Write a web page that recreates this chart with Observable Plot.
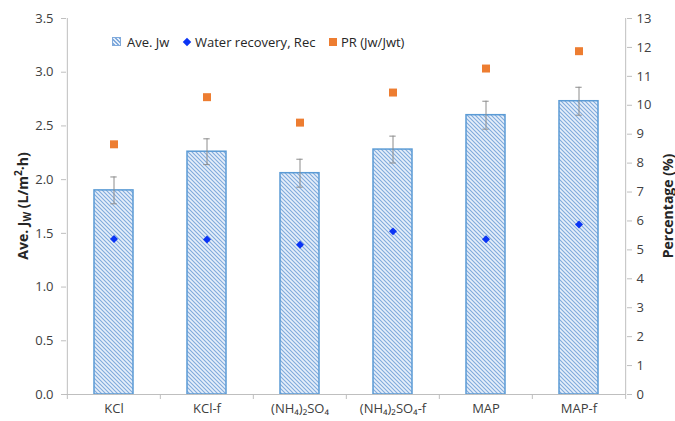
<!DOCTYPE html>
<html><head><meta charset="utf-8">
<script src="https://cdn.jsdelivr.net/npm/d3@7"></script>
<script src="https://cdn.jsdelivr.net/npm/@observablehq/plot@0.6"></script>
<style>
body{margin:0;background:#fff;font-family:"Open Sans",sans-serif;}
#wrap{position:relative;width:675px;height:421px;overflow:hidden;}
.ttl{position:absolute;font-weight:bold;font-size:14px;color:#262626;white-space:nowrap;transform:translate(-50%,-50%) rotate(-90deg);}
.ttl sub,.ttl sup{font-size:10px;line-height:0;}
.lg{position:absolute;font-size:13px;color:#262626;line-height:16px;white-space:nowrap;}
.sw{position:absolute;}
</style></head><body><div id="wrap"></div>
<script>
const categories = ["KCl", "KCl-f", "(NH₄)₂SO₄", "(NH₄)₂SO₄-f", "MAP", "MAP-f"];
const aveJw = [1.90, 2.26, 2.06, 2.28, 2.60, 2.73];
const aveJwErr = [0.125, 0.12, 0.13, 0.125, 0.13, 0.13];
const waterRecovery = [5.38, 5.36, 5.18, 5.64, 5.37, 5.88];
const prRatio = [8.65, 10.28, 9.40, 10.44, 11.27, 11.87];
const leftTicks = [0, 0.5, 1.0, 1.5, 2.0, 2.5, 3.0, 3.5];
const rightTicks = [0, 1, 2, 3, 4, 5, 6, 7, 8, 9, 10, 11, 12, 13];
const legendLabels = ["Ave. Jw", "Water recovery, Rec", "PR (Jw/Jwt)"];

const yMax = 3.5, pMax = 13;
const toY = p => p * yMax / pMax;
const W = 675, H = 421, mL = 66, mR = 49, mT = 18, mB = 27;
const pIn = 0.586, pOut = 0.293;
const step = (W - mL - mR) / categories.length;
const bw = step * (1 - pIn);
const below = -5 * yMax / (H - mT - mB);
const axisColor = "#bfbfbf";

const rows = categories.map((c, i) => ({cat: c, jw: aveJw[i], err: aveJwErr[i], rec: waterRecovery[i], pr: prRatio[i]}));

const plot = Plot.plot({
  width: W, height: H, marginLeft: mL, marginRight: mR, marginTop: mT, marginBottom: mB,
  style: {fontFamily: "Open Sans", fontSize: "13px", color: "#404040", background: "#fff", overflow: "visible"},
  x: {domain: categories, paddingInner: pIn, paddingOuter: pOut, label: null},
  y: {domain: [0, yMax], label: null},
  marks: [
    Plot.barY(rows, {x: "cat", y: "jw", fill: "url(#hatch)", stroke: "#5B9BD5", strokeWidth: 1.5}),
    Plot.ruleX(rows, {x: "cat", y1: d => d.jw - d.err, y2: d => d.jw + d.err, stroke: "#8c8c8c", strokeWidth: 1}),
    Plot.tickY(rows, {x: "cat", y: d => d.jw + d.err, stroke: "#8c8c8c", insetLeft: bw / 2 - 3, insetRight: bw / 2 - 3}),
    Plot.tickY(rows, {x: "cat", y: d => d.jw - d.err, stroke: "#8c8c8c", insetLeft: bw / 2 - 3, insetRight: bw / 2 - 3}),
    Plot.dot(rows, {x: "cat", y: d => toY(d.rec), symbol: "diamond2", r: 3.6, fill: "#0A34F5", stroke: "none"}),
    Plot.dot(rows, {x: "cat", y: d => toY(d.pr), symbol: "square", r: 4.5, fill: "#ED7D31", stroke: "none"}),
    Plot.ruleY([0], {stroke: axisColor}),
    Plot.ruleX(categories, {x: d => d, dx: -step / 2, y1: below, y2: 0, stroke: axisColor}),
    Plot.ruleX([categories[0]], {x: d => d, dx: -step / 2, y1: 0, y2: yMax, stroke: axisColor}),
    Plot.ruleX([categories[categories.length - 1]], {x: d => d, dx: step / 2, y1: below, y2: yMax, stroke: axisColor}),
    Plot.axisY(leftTicks, {anchor: "left", tickFormat: d3.format(".1f"), tickSize: 5, tickPadding: 8, stroke: axisColor, fill: "#404040", label: null}),
    Plot.axisY(rightTicks.map(toY), {anchor: "right", tickFormat: d => String(Math.round(d * pMax / yMax)), tickSize: 5, tickPadding: 5, stroke: axisColor, fill: "#404040", label: null}),
    Plot.axisX({tickSize: 0, tickPadding: 9, fill: "#404040", label: null})
  ]
});

d3.select(plot).insert("defs", ":first-child").html(
  `<pattern id="hatch" patternUnits="userSpaceOnUse" width="4" height="4">
     <rect width="4" height="4" fill="#e6effa"/>
     <path d="M-1,3 l2,2 M0,0 l4,4 M3,-1 l2,2" stroke="#80aadc" stroke-width="1.1"/>
   </pattern>`);

const wrap = document.getElementById("wrap");
wrap.appendChild(plot);

function add(html, cls, style) {
  const d = document.createElement("div");
  d.className = cls; d.innerHTML = html; Object.assign(d.style, style); wrap.appendChild(d); return d;
}
// axis titles
add("Ave. J<sub>W</sub> (L/m<sup>2</sup>·h)", "ttl", {left: "22px", top: "206px"});
add("Percentage (%)", "ttl", {left: "667px", top: "206px"});
// legend
add("", "sw", {left: "112px", top: "37px", width: "9px", height: "9px",
  background: "repeating-linear-gradient(45deg,#e6effa 0 1.5px,#80aadc 1.5px 3px)", outline: "1px solid #80aadc", outlineOffset: "-1px"});
add(legendLabels[0], "lg", {left: "127px", top: "34px"});
add("", "sw", {left: "184px", top: "39px", width: "6px", height: "6px", background: "#0A34F5", transform: "rotate(45deg)"});
add(legendLabels[1], "lg", {left: "195px", top: "34px"});
add("", "sw", {left: "329px", top: "38px", width: "8px", height: "8px", background: "#ED7D31"});
add(legendLabels[2], "lg", {left: "341px", top: "34px"});
</script></body></html>
